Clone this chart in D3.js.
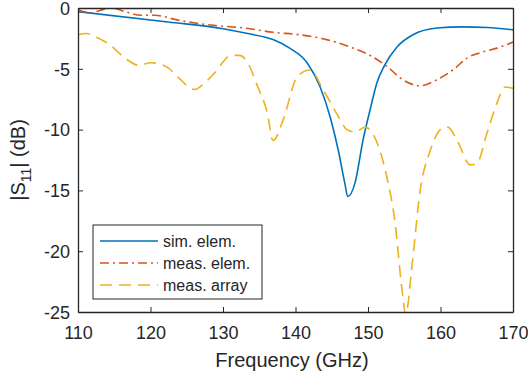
<!DOCTYPE html>
<html>
<head>
<meta charset="utf-8">
<title>S11 vs frequency</title>
<script src="https://cdn.jsdelivr.net/npm/d3@7"></script>
<style type="text/css">
	body { margin: 0; background: #fff; }
	text { font-family: "Liberation Sans", Arial, sans-serif; fill: #262626; }
	.axis path, .axis line { stroke: #262626; }
</style>
</head>
<body>
<script type="text/javascript">

// sim. elem.
var simFreq = [110, 122.4, 130, 133.4, 136.9, 139.2, 141.6, 143.4, 144.8, 145.9, 146.8, 147.2, 148.2, 149.3, 150.4, 151.2, 152.3, 154, 156.2, 159.5, 163, 166.5, 170];
var simVal  = [-0.3, -1.15, -1.7, -2.1, -2.6, -3.3, -4.5, -6.5, -9.0, -11.7, -14.4, -15.5, -14.4, -10.9, -8.1, -6.2, -4.7, -3.2, -2.2, -1.65, -1.55, -1.6, -1.8];

// meas. elem.
var elemFreq = [110, 111.8, 113, 114.6, 116.5, 118.7, 120.6, 123.8, 128.3, 133, 136.9, 140.6, 144.3, 147.5, 150.3, 152.6, 154.8, 157.2, 159.5, 161.7, 163.7, 165.9, 167.8, 170];
var elemVal  = [-0.15, -0.4, -0.2, 0, -0.3, -0.6, -0.6, -1.0, -1.4, -1.65, -2.0, -2.2, -2.6, -3.2, -3.9, -4.8, -5.9, -6.4, -5.9, -5.1, -4.1, -3.6, -3.3, -2.8];

// meas. array
var arrFreq = [110, 111.1, 112.5, 114.1, 116.9, 118.3, 120.1, 122.4, 123.8, 126.1, 127.2, 128.9, 131.1, 132.3, 133.3, 134.8, 136.1, 136.9, 138.3, 140.2, 142.0, 143.8, 145.7, 147.1, 148.2, 149.6, 151.2, 152.6, 153.7, 154.7, 155.2, 156.1, 157.2, 158.6, 160.2, 161.0, 162.3, 164.1, 165.0, 166.4, 167.8, 168.9, 170];
var arrVal  = [-2.2, -2.1, -2.4, -2.9, -4.3, -4.7, -4.5, -4.9, -5.7, -6.7, -6.3, -5.3, -3.9, -3.9, -4.4, -6.5, -8.6, -10.9, -9.2, -5.7, -5.1, -6.7, -8.7, -10.0, -10.2, -9.8, -11.0, -13.9, -17.5, -23.2, -25.2, -21.0, -15.0, -11.7, -9.9, -9.8, -10.9, -12.9, -12.8, -10.3, -7.8, -6.5, -6.6];

var xTicks = [110, 120, 130, 140, 150, 160, 170];
var yTicks = [0, -5, -10, -15, -20, -25];
var seriesNames = ["sim. elem.", "meas. elem.", "meas. array"];

var width = 528, height = 376;
var mLeft = 78, mRight = 513, mTop = 8, mBottom = 312;

var svg = d3.select("body").append("svg").attr("width", width).attr("height", height);

var x = d3.scaleLinear().domain([110, 170]).range([mLeft, mRight]);
var y = d3.scaleLinear().domain([-25, 0]).range([mBottom, mTop]);

svg.append("defs").append("clipPath").attr("id", "clip")
	.append("rect").attr("x", mLeft).attr("y", mTop).attr("width", mRight - mLeft).attr("height", mBottom - mTop);

var series = [
	{ name: seriesNames[0], f: simFreq, v: simVal, color: "#0072BD", dash: null },
	{ name: seriesNames[1], f: elemFreq, v: elemVal, color: "#D95319", dash: "9,4,2,4" },
	{ name: seriesNames[2], f: arrFreq, v: arrVal, color: "#EDB120", dash: "12,7" }
];

var line = d3.line()
	.x(function(d) { return x(d[0]); })
	.y(function(d) { return y(d[1]); })
	.curve(d3.curveMonotoneX);

var plot = svg.append("g").attr("clip-path", "url(#clip)");
series.forEach(function(s) {
	plot.append("path")
		.datum(d3.zip(s.f, s.v))
		.attr("fill", "none")
		.attr("stroke", s.color)
		.attr("stroke-width", 1.6)
		.attr("stroke-dasharray", s.dash)
		.attr("d", line);
});

// plain hyphen minus like the original
var fmt = function(d) { return String(d); };

// axes, ticks inside, box on
var xb = svg.append("g").attr("class", "axis").attr("transform", "translate(0," + mBottom + ")")
	.call(d3.axisBottom(x).tickValues(xTicks).tickFormat(fmt).tickSizeInner(-5).tickSizeOuter(0).tickPadding(14));
svg.append("g").attr("class", "axis").attr("transform", "translate(0," + mTop + ")")
	.call(d3.axisTop(x).tickValues(xTicks).tickSizeInner(-5).tickSizeOuter(0).tickFormat(""));
var yl = svg.append("g").attr("class", "axis").attr("transform", "translate(" + mLeft + ",0)")
	.call(d3.axisLeft(y).tickValues(yTicks).tickFormat(fmt).tickSizeInner(-5).tickSizeOuter(0).tickPadding(8));
svg.append("g").attr("class", "axis").attr("transform", "translate(" + mRight + ",0)")
	.call(d3.axisRight(y).tickValues(yTicks).tickSizeInner(-5).tickSizeOuter(0).tickFormat(""));

svg.selectAll(".axis path").attr("stroke-width", 1.3);
svg.selectAll(".axis text").attr("font-size", 18).style("font-family", "Liberation Sans, Arial, sans-serif").attr("fill", "#262626");
xb.selectAll("text").attr("dy", "0.71em");
yl.selectAll("text").attr("dy", "0.35em");

// axis labels
svg.append("text")
	.attr("x", 292).attr("y", 367)
	.attr("text-anchor", "middle").attr("font-size", 20)
	.text("Frequency (GHz)");

var ylab = svg.append("text")
	.attr("transform", "translate(25," + ((mTop + mBottom) / 2) + ") rotate(-90)")
	.attr("text-anchor", "middle").attr("font-size", 20);
ylab.append("tspan").text("|S");
ylab.append("tspan").attr("font-size", 14).attr("dy", 6).text("11");
ylab.append("tspan").attr("dy", -6).text("| (dB)");

// legend
var lg = svg.append("g");
lg.append("rect").attr("x", 93).attr("y", 225).attr("width", 169).attr("height", 74)
	.attr("fill", "#fff").attr("stroke", "#262626").attr("stroke-width", 1);
series.forEach(function(s, i) {
	var yy = 241 + i * 22;
	lg.append("line").attr("x1", 100).attr("x2", 158).attr("y1", yy).attr("y2", yy)
		.attr("stroke", s.color).attr("stroke-width", 1.6).attr("stroke-dasharray", s.dash);
	lg.append("text").attr("x", 163).attr("y", yy).attr("dy", "0.35em")
		.attr("font-size", 16).text(s.name);
});

</script>
</body>
</html>
